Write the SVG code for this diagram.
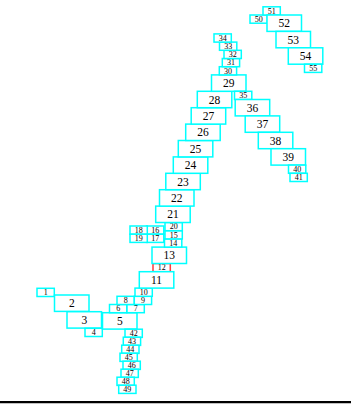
<svg xmlns="http://www.w3.org/2000/svg" width="351" height="405" viewBox="0 0 351 405">
<style>
rect{fill:#fff;stroke:#00ffff;stroke-width:1.5}
rect.red{stroke:#ff3b3b}
text{font-family:"Liberation Serif","Times New Roman",serif;fill:#000;text-anchor:middle}
.tb{font-size:11.5px}
.ts{font-size:8px}
</style>
<rect x="0" y="0" width="351" height="405" style="fill:#fff;stroke:none"/>
<g id="connectors"></g>
<g id="nodes">
<g id="n1"><rect class="s" x="37" y="288.3" width="17.3" height="8.2"/><text class="ts" x="45.65" y="295.1">1</text></g>
<g id="n2"><rect class="b" x="54.5" y="295" width="34.5" height="16.4"/><text class="tb" x="71.75" y="307.2">2</text></g>
<g id="n3"><rect class="b" x="67" y="311.7" width="34.5" height="16.4"/><text class="tb" x="84.25" y="323.9">3</text></g>
<g id="n4"><rect class="s" x="85" y="328.3" width="17.3" height="8.2"/><text class="ts" x="93.65" y="335.1">4</text></g>
<g id="n5"><rect class="b" x="102.5" y="312.7" width="34.5" height="16.4"/><text class="tb" x="119.75" y="324.9">5</text></g>
<g id="n6"><rect class="s" x="109.5" y="304.5" width="17.3" height="8.2"/><text class="ts" x="118.15" y="311.3">6</text></g>
<g id="n7"><rect class="s" x="127" y="304.5" width="17.3" height="8.2"/><text class="ts" x="135.65" y="311.3">7</text></g>
<g id="n8"><rect class="s" x="117" y="296.3" width="17.3" height="8.2"/><text class="ts" x="125.65" y="303.1">8</text></g>
<g id="n9"><rect class="s" x="134.3" y="296.3" width="17.3" height="8.2"/><text class="ts" x="142.95" y="303.1">9</text></g>
<g id="n10"><rect class="s" x="135" y="288.1" width="17.3" height="8.2"/><text class="ts" x="143.65" y="294.9">10</text></g>
<g id="n12"><rect class="s red" x="153" y="263.5" width="17.3" height="8.2"/><text class="ts" x="161.65" y="270.3">12</text></g>
<g id="n11"><rect class="b" x="139.3" y="271.7" width="34.5" height="16.4"/><text class="tb" x="156.55" y="283.9">11</text></g>
<g id="n13"><rect class="b" x="152" y="247.1" width="34.5" height="16.4"/><text class="tb" x="169.25" y="259.3">13</text></g>
<g id="n14"><rect class="s" x="164.5" y="238.9" width="17.3" height="8.2"/><text class="ts" x="173.15" y="245.7">14</text></g>
<g id="n15"><rect class="s" x="165" y="230.7" width="17.3" height="8.2"/><text class="ts" x="173.65" y="237.5">15</text></g>
<g id="n20"><rect class="s" x="165" y="222.5" width="17.3" height="8.2"/><text class="ts" x="173.65" y="229.3">20</text></g>
<g id="n16"><rect class="s" x="146.5" y="226" width="17.3" height="8.2"/><text class="ts" x="155.15" y="232.8">16</text></g>
<g id="n17"><rect class="s" x="146.5" y="234.2" width="17.3" height="8.2"/><text class="ts" x="155.15" y="241">17</text></g>
<g id="n18"><rect class="s" x="130" y="226" width="17.3" height="8.2"/><text class="ts" x="138.65" y="232.8">18</text></g>
<g id="n19"><rect class="s" x="130" y="234.2" width="17.3" height="8.2"/><text class="ts" x="138.65" y="241">19</text></g>
<g id="n21"><rect class="b" x="155.7" y="206.1" width="34.5" height="16.4"/><text class="tb" x="172.95" y="218.3">21</text></g>
<g id="n22"><rect class="b" x="159.5" y="189.7" width="34.5" height="16.4"/><text class="tb" x="176.75" y="201.9">22</text></g>
<g id="n23"><rect class="b" x="165.8" y="173.3" width="34.5" height="16.4"/><text class="tb" x="183.05" y="185.5">23</text></g>
<g id="n24"><rect class="b" x="173.3" y="156.9" width="34.5" height="16.4"/><text class="tb" x="190.55" y="169.1">24</text></g>
<g id="n25"><rect class="b" x="178.3" y="140.5" width="34.5" height="16.4"/><text class="tb" x="195.55" y="152.7">25</text></g>
<g id="n26"><rect class="b" x="185.7" y="124.1" width="34.5" height="16.4"/><text class="tb" x="202.95" y="136.3">26</text></g>
<g id="n27"><rect class="b" x="191.2" y="107.7" width="34.5" height="16.4"/><text class="tb" x="208.45" y="119.9">27</text></g>
<g id="n28"><rect class="b" x="197.3" y="91.3" width="34.5" height="16.4"/><text class="tb" x="214.55" y="103.5">28</text></g>
<g id="n29"><rect class="b" x="211.5" y="74.9" width="34.5" height="16.4"/><text class="tb" x="228.75" y="87.1">29</text></g>
<g id="n30"><rect class="s" x="219.3" y="66.7" width="17.3" height="8.2"/><text class="ts" x="227.95" y="73.5">30</text></g>
<g id="n31"><rect class="s" x="222.3" y="58.5" width="17.3" height="8.2"/><text class="ts" x="230.95" y="65.3">31</text></g>
<g id="n32"><rect class="s" x="224" y="50.3" width="17.3" height="8.2"/><text class="ts" x="232.65" y="57.1">32</text></g>
<g id="n33"><rect class="s" x="219.5" y="42.1" width="17.3" height="8.2"/><text class="ts" x="228.15" y="48.9">33</text></g>
<g id="n34"><rect class="s" x="214" y="33.9" width="17.3" height="8.2"/><text class="ts" x="222.65" y="40.7">34</text></g>
<g id="n35"><rect class="s" x="234.5" y="91.3" width="17.3" height="8.2"/><text class="ts" x="243.15" y="98.1">35</text></g>
<g id="n36"><rect class="b" x="235.2" y="99.5" width="34.5" height="16.4"/><text class="tb" x="252.45" y="111.7">36</text></g>
<g id="n37"><rect class="b" x="245.2" y="115.9" width="34.5" height="16.4"/><text class="tb" x="262.45" y="128.1">37</text></g>
<g id="n38"><rect class="b" x="258.3" y="132.3" width="34.5" height="16.4"/><text class="tb" x="275.55" y="144.5">38</text></g>
<g id="n39"><rect class="b" x="271" y="148.7" width="34.5" height="16.4"/><text class="tb" x="288.25" y="160.9">39</text></g>
<g id="n40"><rect class="s" x="288.5" y="165.1" width="17.3" height="8.2"/><text class="ts" x="297.15" y="171.9">40</text></g>
<g id="n41"><rect class="s" x="290" y="173.3" width="17.3" height="8.2"/><text class="ts" x="298.65" y="180.1">41</text></g>
<g id="n42"><rect class="s" x="125" y="329.2" width="17.3" height="8.2"/><text class="ts" x="133.65" y="336">42</text></g>
<g id="n43"><rect class="s" x="123.3" y="337.2" width="17.3" height="8.2"/><text class="ts" x="131.95" y="344">43</text></g>
<g id="n44"><rect class="s" x="121.7" y="345.2" width="17.3" height="8.2"/><text class="ts" x="130.35" y="352">44</text></g>
<g id="n45"><rect class="s" x="120" y="353.2" width="17.3" height="8.2"/><text class="ts" x="128.65" y="360">45</text></g>
<g id="n46"><rect class="s" x="123" y="361.2" width="17.3" height="8.2"/><text class="ts" x="131.65" y="368">46</text></g>
<g id="n47"><rect class="s" x="121" y="369.2" width="17.3" height="8.2"/><text class="ts" x="129.65" y="376">47</text></g>
<g id="n48"><rect class="s" x="117" y="377.2" width="17.3" height="8.2"/><text class="ts" x="125.65" y="384">48</text></g>
<g id="n49"><rect class="s" x="118.7" y="385.2" width="17.3" height="8.2"/><text class="ts" x="127.35" y="392">49</text></g>
<g id="n50"><rect class="s" x="250" y="15" width="17.3" height="8.2"/><text class="ts" x="258.65" y="21.8">50</text></g>
<g id="n51"><rect class="s" x="263" y="6.8" width="17.3" height="8.2"/><text class="ts" x="271.65" y="13.6">51</text></g>
<g id="n52"><rect class="b" x="267" y="15" width="34.5" height="16.4"/><text class="tb" x="284.25" y="27.2">52</text></g>
<g id="n53"><rect class="b" x="276" y="31.4" width="34.5" height="16.4"/><text class="tb" x="293.25" y="43.6">53</text></g>
<g id="n54"><rect class="b" x="288.3" y="47.8" width="34.5" height="16.4"/><text class="tb" x="305.55" y="60">54</text></g>
<g id="n55"><rect class="s" x="304.5" y="64.2" width="17.3" height="8.2"/><text class="ts" x="313.15" y="71">55</text></g>
</g>
<line x1="0" y1="402.2" x2="351" y2="402.2" stroke="#000" stroke-width="2.2"/>
</svg>
